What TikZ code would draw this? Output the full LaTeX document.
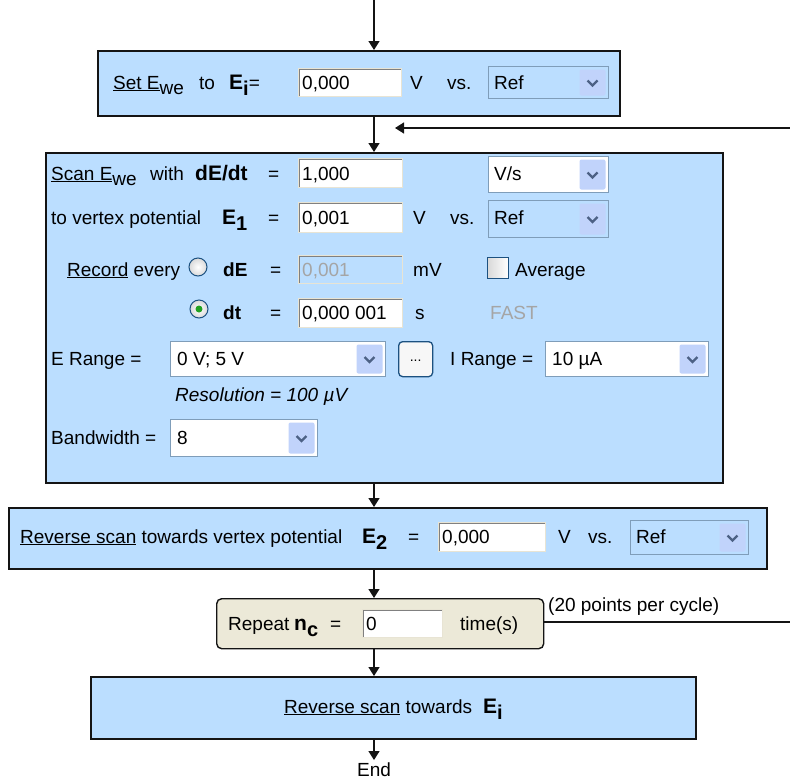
\documentclass[tikz,border=0pt]{standalone}
\usepackage{fontspec}
\setmainfont{Liberation Sans}
\usetikzlibrary{arrows.meta}

\definecolor{panelblue}{RGB}{187,222,255}
\definecolor{panelbeige}{RGB}{236,233,216}
\definecolor{fieldedge}{RGB}{128,128,128}
\definecolor{fieldlight}{RGB}{232,228,212}
\definecolor{comboedge}{RGB}{127,157,185}
\definecolor{combobtn}{RGB}{193,211,251}
\definecolor{chevroncol}{RGB}{77,97,133}
\definecolor{ctrledge}{RGB}{28,81,128}
\definecolor{dimtext}{RGB}{165,165,165}
\definecolor{radiodot}{RGB}{33,161,33}
\definecolor{linecol}{RGB}{20,20,20}

% bold symbol with a lowered bold index, e.g. E_i
\newcommand{\bsym}[2]{{\fontsize{21}{24}\selectfont\bfseries #1}\raisebox{-6pt}{\fontsize{20}{22}\selectfont\bfseries #2}}
% lowered plain index, e.g. E_we
\newcommand{\lowtxt}[1]{\raisebox{-5pt}{#1}}

\tikzset{
  every node/.style={font=\fontsize{19}{22}\selectfont},
  stepbox/.style={draw=linecol, line width=1.6pt, fill=panelblue, anchor=north west, inner sep=0pt},
  loopbox/.style={draw=linecol, line width=1.4pt, fill=panelbeige, rounded corners=5pt, anchor=north west, inner sep=0pt},
  lbl/.style={anchor=base west, inner sep=0pt},
  field/.style={anchor=north west, fill=white, draw=fieldlight, line width=1pt, inner sep=0pt,
    path picture={\draw[fieldedge, line width=3pt]
      (path picture bounding box.south west) -- (path picture bounding box.north west)
      -- (path picture bounding box.north east);}},
  combo/.style={anchor=north west, draw=comboedge, line width=1pt, fill=white, inner sep=0pt,
    path picture={
      \fill[combobtn, rounded corners=2pt]
        ([xshift=-29pt,yshift=-3pt]path picture bounding box.north east) rectangle
        ([xshift=-3pt,yshift=3pt]path picture bounding box.south east);
      \draw[chevroncol, line width=2.2pt]
        ([xshift=-21pt,yshift=2pt]path picture bounding box.east) --
        ([xshift=-16pt,yshift=-3pt]path picture bounding box.east) --
        ([xshift=-11pt,yshift=2pt]path picture bounding box.east);}},
  refcombo/.style={combo, fill=panelblue},
  radio/.style={circle, minimum size=18pt, inner sep=0pt, draw=ctrledge, line width=1pt,
    inner color=white, outer color=gray!30},
  radioon/.style={radio, path picture={\fill[radiodot] (path picture bounding box.center) circle (3.5pt);}},
  checkbox/.style={rectangle, minimum size=21pt, inner sep=0pt, draw=ctrledge, line width=1pt,
    left color=gray!30, right color=white},
  pushbtn/.style={anchor=north west, rounded corners=4pt, draw=ctrledge, line width=1.3pt,
    fill=gray!6, minimum width=34pt, minimum height=35pt, inner sep=0pt},
  flow/.style={draw=linecol, line width=1.3pt, -{Triangle[width=11pt,length=9pt]}},
  link/.style={draw=linecol, line width=1.3pt},
}

\begin{document}
\begin{tikzpicture}[x=1pt, y=-1pt]
\useasboundingbox (0,0) rectangle (790,780);

% ---------- step 1: set the initial potential ----------
\node[stepbox, minimum width=522pt, minimum height=65pt] (setbox) at (97,50) {};
\node[lbl] (setlbl) at (113,89) {\underline{Set E}\lowtxt{we}};
\node[lbl] (tolbl) at (199,89) {to};
\node[lbl] (eilbl) at (229,89) {\bsym{E}{i}=};
\node[field, minimum width=103pt, minimum height=28pt] (eifield) at (298,68) {};
\node[lbl] (eival) at (302,89) {0,000};
\node[lbl] (vlbla) at (410,89) {V};
\node[lbl] (vsa) at (447,89) {vs.};
\node[refcombo, minimum width=120pt, minimum height=32pt] (refa) at (488,66) {};
\node[lbl] (refatxt) at (494,89) {Ref};

% ---------- step 2: forward scan ----------
\node[stepbox, minimum width=677pt, minimum height=330pt] (scanbox) at (45,152) {};
% row: scan rate
\node[lbl] (scanlbl) at (51,180) {\underline{Scan E}\lowtxt{we}};
\node[lbl] (withlbl) at (150,180) {with};
\node[lbl] (ratelbl) at (195,180) {\fontsize{21}{24}\selectfont\bfseries dE/dt};
\node[lbl] (eqa) at (268,180) {=};
\node[field, minimum width=104pt, minimum height=29pt] (ratefield) at (298,158) {};
\node[lbl] (rateval) at (302,180) {1,000};
\node[combo, minimum width=120pt, minimum height=36pt] (unitcombo) at (488,156) {};
\node[lbl] (unittxt) at (494,180) {V/s};
% row: vertex potential E1
\node[lbl] (vertexlbl) at (51,224) {to vertex potential};
\node[lbl] (eonelbl) at (222,224) {\bsym{E}{1}};
\node[lbl] (eqb) at (268,224) {=};
\node[field, minimum width=104pt, minimum height=30pt] (eonefield) at (298,202) {};
\node[lbl] (eoneval) at (302,224) {0,001};
\node[lbl] (vlblb) at (413,224) {V};
\node[lbl] (vsb) at (450,224) {vs.};
\node[refcombo, minimum width=120pt, minimum height=37pt] (refb) at (488,200) {};
\node[lbl] (refbtxt) at (494,224) {Ref};
% row: record every dE
\node[lbl] (recordlbl) at (67,276) {\underline{Record} every};
\node[radio] (radiode) at (198,267) {};
\node[lbl] (delbl) at (223,276) {\bfseries dE};
\node[lbl] (eqc) at (270,276) {=};
\node[field, fill=panelblue, minimum width=104pt, minimum height=28pt] (defield) at (298,255) {};
\node[lbl, text=dimtext] (deval) at (302,276) {0,001};
\node[lbl] (mvlbl) at (413,276) {mV};
\node[checkbox] (avgbox) at (498,268) {};
\node[lbl] (avglbl) at (515,276) {Average};
% row: record every dt
\node[radioon] (radiodt) at (199,309) {};
\node[lbl] (dtlbl) at (223,319) {\bfseries dt};
\node[lbl] (eqd) at (270,319) {=};
\node[field, minimum width=104pt, minimum height=29pt] (dtfield) at (298,298) {};
\node[lbl] (dtval) at (302,319) {0,000 001};
\node[lbl] (slbl) at (415,319) {s};
\node[lbl, text=dimtext] (fastlbl) at (490,319) {FAST};
% row: ranges
\node[lbl] (erangelbl) at (51,365) {E Range =};
\node[combo, minimum width=215pt, minimum height=35pt] (erange) at (170,341) {};
\node[lbl] (erangetxt) at (177,365) {0 V; 5 V};
\node[pushbtn] (rangebtn) at (398,341) {\raisebox{-5pt}{\fontsize{14}{16}\selectfont ...}};
\node[lbl] (irangelbl) at (450,365) {I Range =};
\node[combo, minimum width=163pt, minimum height=35pt] (irange) at (545,341) {};
\node[lbl] (irangetxt) at (552,365) {10 µA};
\node[lbl] (reslbl) at (175,401) {\itshape Resolution = 100 µV};
% row: bandwidth
\node[lbl] (bwlbl) at (51,444) {Bandwidth =};
\node[combo, minimum width=147pt, minimum height=37pt] (bwcombo) at (170,419) {};
\node[lbl] (bwtxt) at (177,444) {8};

% ---------- step 3: reverse scan to E2 ----------
\node[stepbox, minimum width=758pt, minimum height=61pt] (revbox) at (8,507) {};
\node[lbl] (revlbl) at (20,543) {\underline{Reverse scan} towards vertex potential};
\node[lbl] (etwolbl) at (362,543) {\bsym{E}{2}};
\node[lbl] (eqe) at (408,543) {=};
\node[field, minimum width=107pt, minimum height=29pt] (etwofield) at (438,522) {};
\node[lbl] (etwoval) at (442,543) {0,000};
\node[lbl] (vlblc) at (558,543) {V};
\node[lbl] (vsc) at (588,543) {vs.};
\node[refcombo, minimum width=118pt, minimum height=34pt] (refc) at (630,520) {};
\node[lbl] (refctxt) at (636,543) {Ref};

% ---------- repeat block ----------
\node[loopbox, minimum width=327pt, minimum height=50pt] (repbox) at (216,598) {};
\node[lbl] (replbl) at (228,630) {Repeat};
\node[lbl] (nclbl) at (294,630) {\bsym{n}{c}};
\node[lbl] (eqf) at (330,630) {=};
\node[field, minimum width=80pt, minimum height=28pt] (ncfield) at (362,609) {};
\node[lbl] (ncval) at (366,630) {0};
\node[lbl] (timelbl) at (460,630) {time(s)};
\node[lbl] (ptslbl) at (548,611) {(20 points per cycle)};

% ---------- step 4: reverse scan to Ei ----------
\node[stepbox, minimum width=605pt, minimum height=62pt] (finalbox) at (90,676) {};
\node[lbl] (finallbl) at (284,713) {\underline{Reverse scan} towards};
\node[lbl] (eifinal) at (483,713) {\bsym{E}{i}};
\node[anchor=base, inner sep=0pt] (endlbl) at (374,776) {End};

% ---------- connectors ----------
\coordinate (spine) at (374,0);
\coordinate (loopin) at (790,128);
\coordinate (looptip) at (395,128);
\coordinate (loopout) at (790,622);

\draw[flow] (spine) -- (spine |- setbox.north);
\draw[flow] (spine |- setbox.south) -- (spine |- scanbox.north);
\draw[flow] (loopin) -- (looptip);
\draw[flow] (spine |- scanbox.south) -- (spine |- revbox.north);
\draw[flow] (spine |- revbox.south) -- (spine |- repbox.north);
\draw[link] (repbox.east |- loopout) -- (loopout);
\draw[flow] (spine |- repbox.south) -- (spine |- finalbox.north);
\draw[flow] (spine |- finalbox.south) -- ([yshift=2pt]endlbl.north);
\end{tikzpicture}
\end{document}
